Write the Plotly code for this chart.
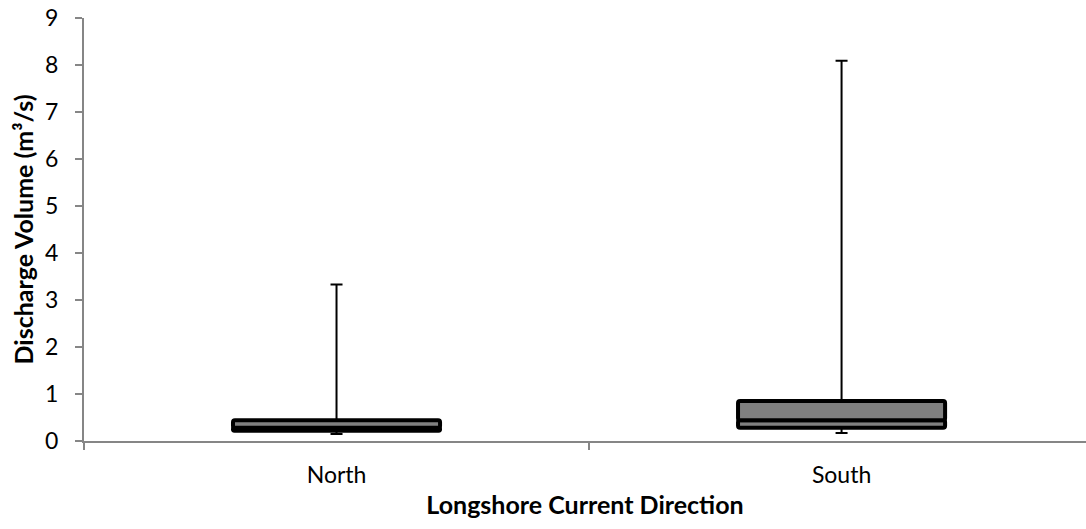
import plotly.graph_objects as go

categories = ["North", "South"]
q_min = [0.15, 0.17]
q1 = [0.22, 0.28]
median = [0.28, 0.44]
q3 = [0.44, 0.85]
q_max = [3.33, 8.09]
y_ticks = [0, 1, 2, 3, 4, 5, 6, 7, 8, 9]

FONT = "Lato"
BOX_W = 0.41

fig = go.Figure()

# lower box part (Q1 -> median)
fig.add_trace(go.Bar(
    x=categories, base=q1, y=[m - a for m, a in zip(median, q1)],
    width=BOX_W, marker=dict(color="#808080", line=dict(color="black", width=4),
                             cornerradius=2),
    showlegend=False, hoverinfo="skip"))
# upper box part (median -> Q3)
fig.add_trace(go.Bar(
    x=categories, base=median, y=[b - m for b, m in zip(q3, median)],
    width=BOX_W, marker=dict(color="#808080", line=dict(color="black", width=4),
                             cornerradius=2),
    showlegend=False, hoverinfo="skip"))

# upper whiskers
fig.add_trace(go.Scatter(
    x=categories, y=q3, mode="markers", marker=dict(opacity=0, size=1),
    error_y=dict(type="data", symmetric=False,
                 array=[b - a for b, a in zip(q_max, q3)], arrayminus=[0, 0],
                 color="black", thickness=2, width=6),
    showlegend=False, hoverinfo="skip"))
# lower whiskers
fig.add_trace(go.Scatter(
    x=categories, y=q1, mode="markers", marker=dict(opacity=0, size=1),
    error_y=dict(type="data", symmetric=False,
                 array=[0, 0], arrayminus=[a - b for a, b in zip(q1, q_min)],
                 color="black", thickness=2, width=6),
    showlegend=False, hoverinfo="skip"))

fig.update_layout(
    width=1086, height=529,
    margin=dict(l=84, r=0, t=18, b=88),
    paper_bgcolor="white", plot_bgcolor="white",
    barmode="overlay",
    font=dict(family=FONT, size=23, color="black"),
    xaxis=dict(
        type="category", range=[-0.5, 1.484],
        showline=True, linecolor="#868686", linewidth=2,
        ticks="outside", tickson="boundaries", ticklen=7, tickwidth=2,
        tickcolor="#868686", showgrid=False, zeroline=False,
        ticklabelstandoff=12,
        tickfont=dict(family=FONT, size=23, color="black"),
        title=dict(text="<b>Longshore Current Direction</b>",
                   font=dict(family=FONT, size=25, color="black"), standoff=10),
    ),
    yaxis=dict(
        range=[0, 9], tickvals=y_ticks,
        showline=True, linecolor="#868686", linewidth=2,
        ticks="outside", ticklen=7, tickwidth=2, tickcolor="#868686",
        showgrid=False, zeroline=False,
        ticklabelstandoff=12,
        tickfont=dict(family=FONT, size=23, color="black"),
        title=dict(text="<b>Discharge Volume (m³/s)</b>",
                   font=dict(family=FONT, size=25, color="black"), standoff=4),
    ),
)

fig.write_html("out.html")
